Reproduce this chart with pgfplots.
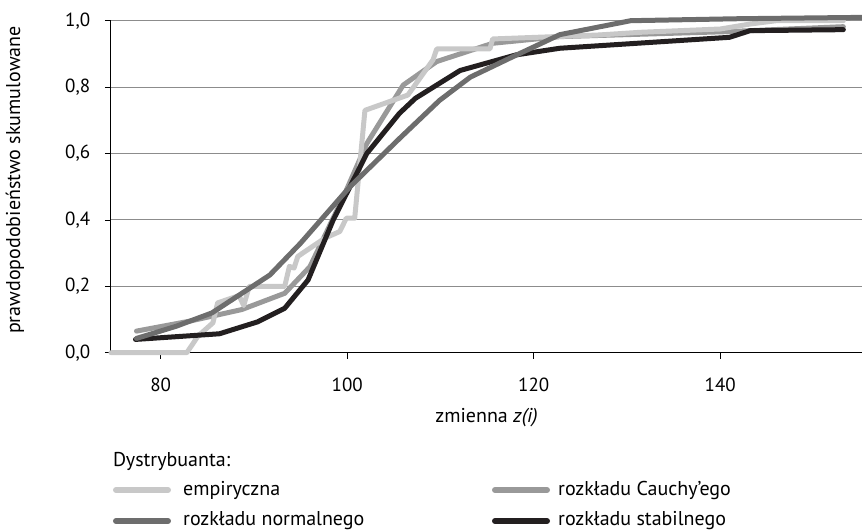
\documentclass[border=0pt]{standalone}
\usepackage{pgfplots}
\pgfplotsset{compat=1.18}
\usepackage{fontspec}
\setmainfont{PT Sans}
\definecolor{emp}{HTML}{C8C8C8}
\definecolor{cau}{HTML}{999999}
\definecolor{nor}{HTML}{6D6D6D}
\definecolor{sta}{HTML}{231F20}
\definecolor{gridc}{HTML}{8C8C8C}
\begin{document}
\fontsize{20}{24}\selectfont
\begin{tikzpicture}
\useasboundingbox (-111pt,-177.3pt) rectangle (751pt,352.7pt);
\begin{axis}[
  at={(0pt,0pt)}, anchor=south west,
  scale only axis, width=751pt, height=332pt,
  xmin=74.67, xmax=155.2, ymin=0, ymax=1,
  axis x line*=bottom, axis y line*=left,
  axis line style={black, line width=1pt},
  xtick={80,100,120,140}, ytick={0,0.2,0.4,0.6,0.8,1},
  tick align=outside, major tick length=6pt,
  tick style={black, line width=0.8pt},
  ymajorgrids, grid style={draw=gridc, line width=1pt},
  clip=false,
  /pgf/number format/assume math mode=true,
  yticklabel style={/pgf/number format/use comma, /pgf/number format/fixed, /pgf/number format/fixed zerofill, /pgf/number format/precision=1, xshift=-8pt},
  xticklabel style={yshift=-12pt},
  ticklabel style={font=\fontsize{19}{22}\selectfont},
  xlabel={zmienna \textit{z(i)}},
  xlabel style={at={(axis description cs:0.5,-0.196)}, anchor=center, font=\fontsize{20}{24}\selectfont},
  ylabel={prawdopodobieństwo skumulowane},
  ylabel style={at={(axis description cs:-0.128,0.52)}, anchor=center, font=\fontsize{20}{24}\selectfont},
  every axis plot/.append style={line width=5pt, line join=round, line cap=round},
]
\addplot[cau] coordinates {
(77.4,0.065) (83.1,0.095) (88.7,0.13) (93.3,0.179) (96,0.259) (99.6,0.47)
(102.1,0.63) (106,0.806) (109.6,0.877) (115.6,0.932) (122.8,0.952) (140.7,0.967) (153.2,0.982)};
\addplot[emp] coordinates {
(74.67,0) (82.8,0) (84.0,0.05) (85.6,0.09) (86.1,0.15) (88.4,0.172) (88.9,0.142) (89.5,0.2)
(93.3,0.2) (93.8,0.26) (94.3,0.255) (94.7,0.29) (97.6,0.345) (99.2,0.365) (99.9,0.405)
(100.8,0.405) (101.9,0.73) (106.5,0.776) (109.2,0.882) (109.6,0.915) (115.3,0.915)
(115.6,0.945) (127,0.957) (131.4,0.965) (140,0.975) (143.2,0.99) (146,1.0) (153.2,1.0)};
\addplot[sta] coordinates {
(77.3,0.04) (86.3,0.057) (90.4,0.093) (93.3,0.134) (95.8,0.219) (98.5,0.4) (102.1,0.6)
(105.6,0.721) (107.3,0.766) (112.1,0.85) (118.1,0.897) (122.8,0.917) (141,0.95)
(143.2,0.97) (153.2,0.973)};
\addplot[nor] coordinates {
(77.4,0.043) (81.7,0.08) (85.5,0.12) (91.7,0.234) (95,0.33) (100.3,0.5) (105.6,0.645)
(109.9,0.76) (113.2,0.83) (117.5,0.888) (122.8,0.958) (130.4,1.0) (142,1.006) (155.2,1.01)};
\end{axis}
\node[anchor=west, inner sep=0pt] at (2pt,-108.3pt) {Dystrybuanta:};
\draw[emp, line width=6pt, line cap=round] (5pt,-137.3pt) -- (57pt,-137.3pt);
\node[anchor=west, inner sep=0pt] at (72pt,-137.3pt) {empiryczna};
\draw[cau, line width=6pt, line cap=round] (384pt,-137.3pt) -- (436pt,-137.3pt);
\node[anchor=west, inner sep=0pt] at (447pt,-137.3pt) {rozkładu Cauchy’ego};
\draw[nor, line width=6pt, line cap=round] (5pt,-168.3pt) -- (57pt,-168.3pt);
\node[anchor=west, inner sep=0pt] at (72pt,-168.3pt) {rozkładu normalnego};
\draw[sta, line width=6pt, line cap=round] (384pt,-168.3pt) -- (436pt,-168.3pt);
\node[anchor=west, inner sep=0pt] at (447pt,-168.3pt) {rozkładu stabilnego};
\end{tikzpicture}
\end{document}
